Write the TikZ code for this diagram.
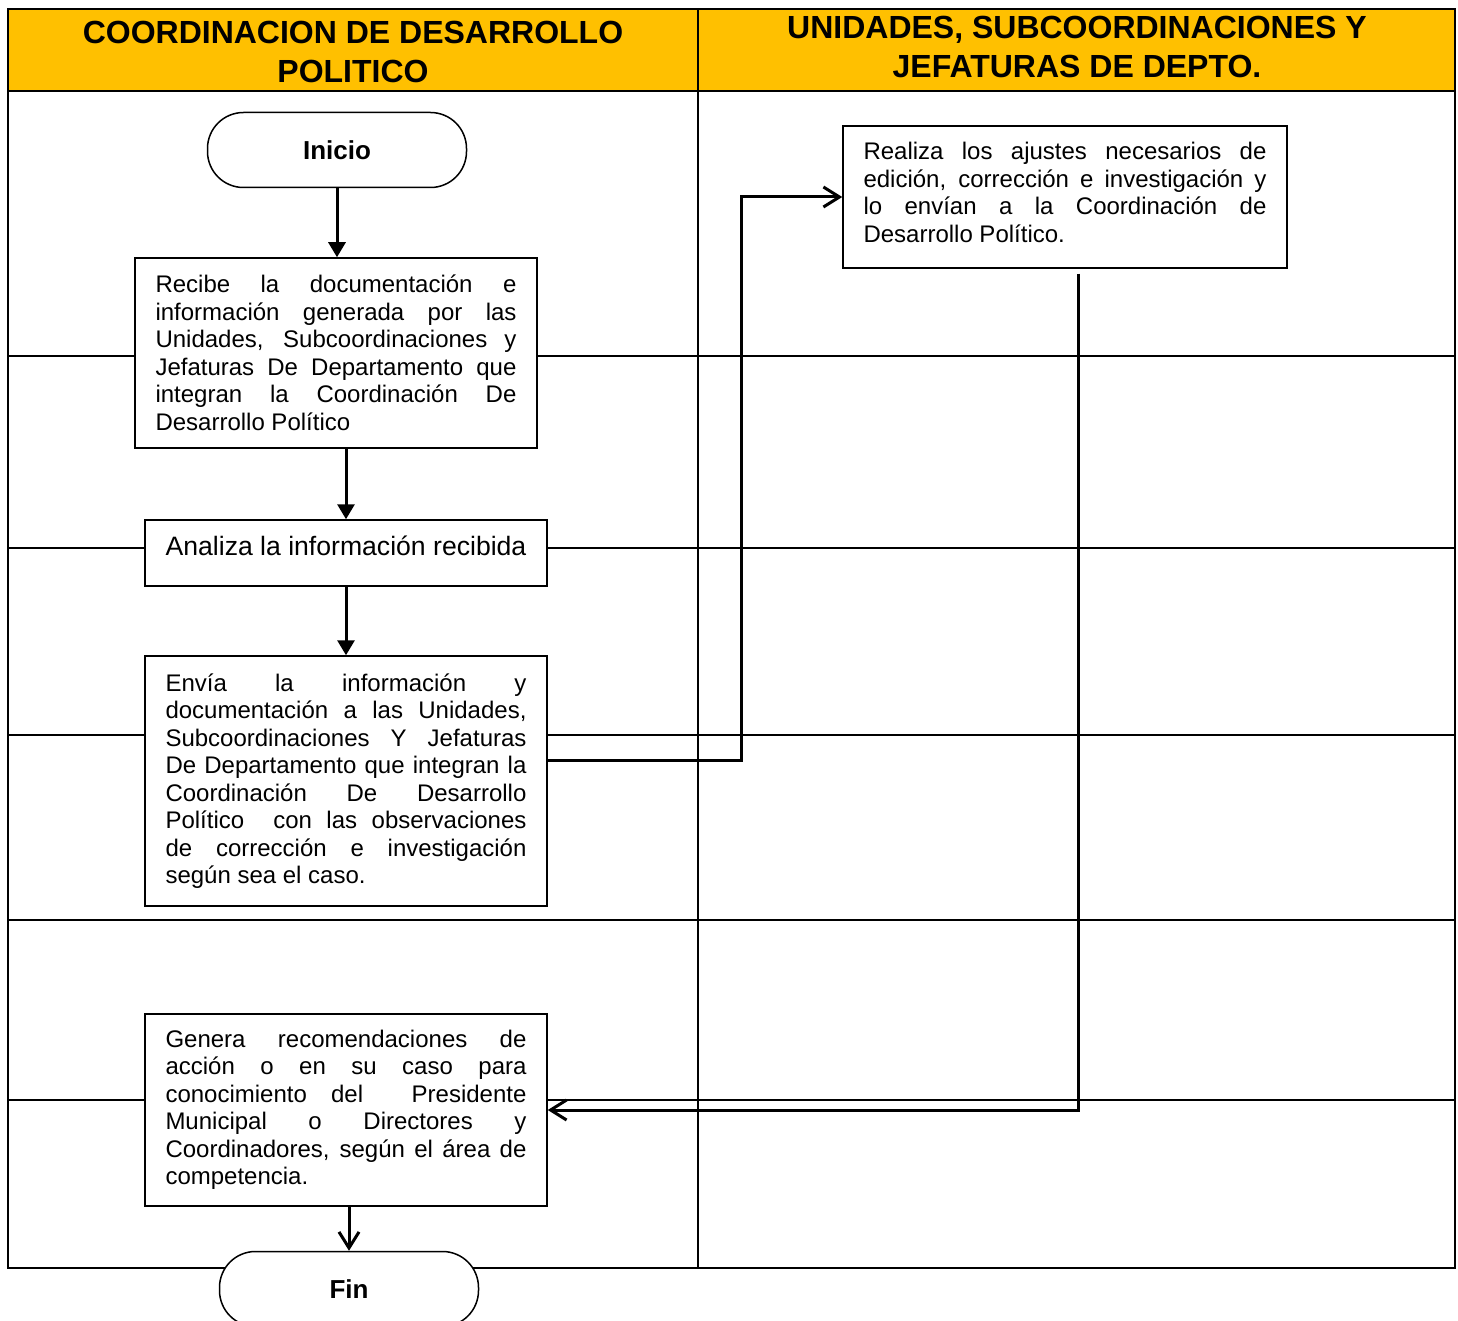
\documentclass[tikz,border=0pt]{standalone}
\usepackage{fontspec}
\setmainfont{Liberation Sans}
\usetikzlibrary{arrows.meta}
\definecolor{headgold}{HTML}{FFC000}

\begin{document}
\begin{tikzpicture}[x=0.5pt,y=-0.5pt,
  procbox/.style={draw,line width=0.75pt,fill=white,text width=180.5pt,align=justify,inner xsep=10.25pt,font=\fontsize{12}{13.75}\selectfont},
  termbox/.style={draw,line width=0.75pt,fill=white,rounded corners=18pt,minimum width=129.5pt,minimum height=37.5pt,font=\fontsize{13}{15}\selectfont\bfseries},
  headtext/.style={align=center,font=\fontsize{16}{19.5}\selectfont\bfseries},
  solidarrow/.style={line width=1.5pt,-{Triangle[length=7.5pt,width=8.5pt]}},
  openarrow/.style={line width=1.5pt,-{Straight Barb[length=8pt,width=10pt]}}]
\useasboundingbox (0,0) rectangle (1458,1321);

% lanes
\path[fill=headgold] (8,9) rectangle (1455,91);
\foreach \y in {356,548,735,920,1100}
  \path[draw,line width=1pt] (8,\y) -- (1455,\y);
\path[draw,line width=1pt] (8,91) -- (1455,91);
\path[draw,line width=0.6pt] (698,9) -- (698,1268);
\path[draw,line width=1pt] (8,9) rectangle (1455,1268);

\node[headtext] (headLeft) at (353,52) {COORDINACION DE DESARROLLO\\POLITICO};
\node[headtext] (headRight) at (1077,47) {UNIDADES, SUBCOORDINACIONES Y\\JEFATURAS DE DEPTO.};

% steps
\node[termbox] (inicio) at (337,150) {Inicio};
\node[procbox,minimum height=95pt] (recibe) at (336,353) {Recibe la documentación e\linebreak información generada por las\linebreak Unidades, Subcoordinaciones y\linebreak Jefaturas De Departamento que\linebreak integran la Coordinación De\linebreak Desarrollo Político};
\node[draw,line width=0.75pt,fill=white,minimum width=201pt,minimum height=33pt,text depth=7pt,font=\fontsize{13.3}{15}\selectfont] (analiza) at (346,553) {Analiza la información recibida};
\node[procbox,minimum height=125pt] (envia) at (346,781) {Envía la información y\linebreak documentación a las Unidades,\linebreak Subcoordinaciones Y Jefaturas\linebreak De Departamento que integran la\linebreak Coordinación De Desarrollo\linebreak Político~ con las observaciones\linebreak de corrección e investigación\linebreak según sea el caso.};
\node[procbox,text width=201.5pt,minimum height=71pt,text depth=46pt] (realiza) at (1065,197) {Realiza los ajustes necesarios de\linebreak edición, corrección e investigación y\linebreak lo envían a la Coordinación de\linebreak Desarrollo Político.};
\node[procbox,minimum height=96pt] (genera) at (346,1110) {Genera recomendaciones de\linebreak acción o en su caso para\linebreak conocimiento del~ Presidente\linebreak Municipal o Directores y\linebreak Coordinadores, según el área de\linebreak competencia.};
\node[termbox] (fin) at (349,1289) {Fin};

% flow
\coordinate (turnA) at (741,760);
\draw[solidarrow] (inicio.south) -- (inicio.south |- recibe.north);
\draw[solidarrow] (recibe.south -| analiza.north) -- (analiza.north);
\draw[solidarrow] (analiza.south) -- (envia.north);
\draw[openarrow] ([yshift=10.5pt]envia.east) -- (turnA) |- (realiza.west);
\draw[openarrow] ([xshift=6.5pt,yshift=-2.5pt]realiza.south) |- (genera.east);
\draw[openarrow] (fin.north |- genera.south) -- (fin.north);

\end{tikzpicture}
\end{document}
